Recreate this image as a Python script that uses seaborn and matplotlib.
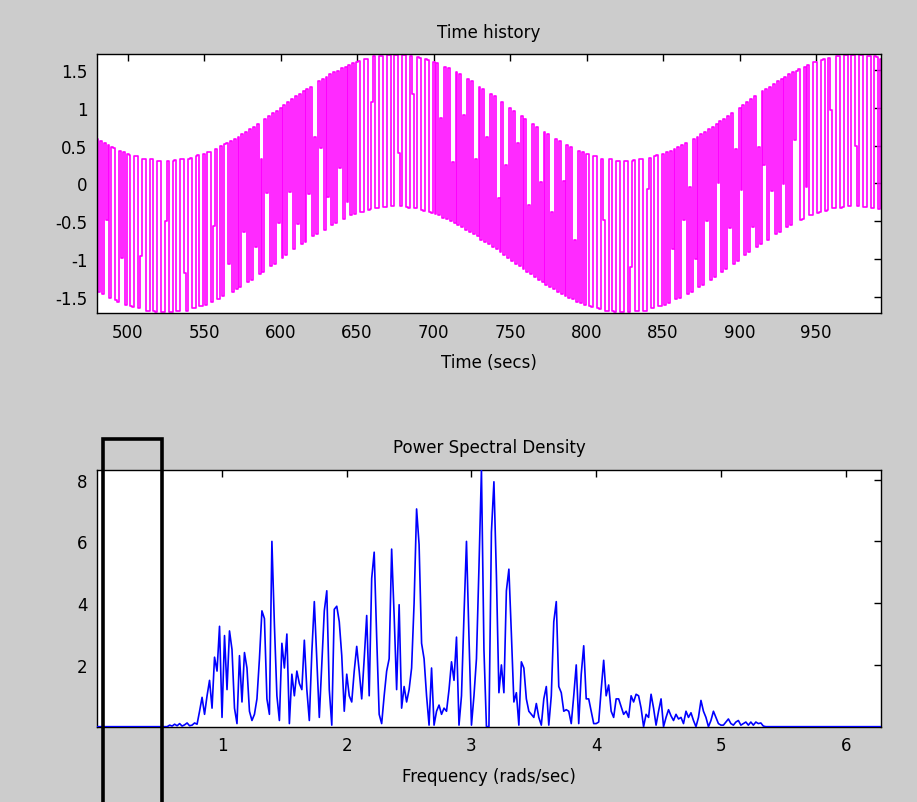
import numpy as np
import matplotlib
matplotlib.use("Agg")
import matplotlib.pyplot as plt
from matplotlib.patches import Rectangle
import seaborn as sns

# -------------------------------
# data
# -------------------------------

# time history, one sample every 1.25 s from 480 s
t_start = 480.0
t_step = 1.25
displacement = [
    # 480 - 500
    0.59, -1.43, 0.56, -1.46, 0.53, -0.48, 0.51, -1.51, 0.48, 0.47,
    -1.54, -1.56, 0.43, -0.98, 0.41, -1.60,
    # 500 - 547.5
    0.39, 0.38, -1.62, -1.63, 0.36, 0.36, -1.65, -0.96, 0.33, 0.33,
    -1.68, -1.68, 0.32, 0.32, -1.69, -1.70, 0.30, 0.30, -1.70, -1.70,
    -0.50, 0.30, -1.70, -1.70, 0.30, 0.31, -1.69, -1.69, 0.32, 0.32,
    -1.18, -1.68, 0.33, 0.34, -1.65, -1.65, 0.36, 0.37,
    # 547.5 - 570
    -1.62, -1.62, 0.39, -1.60, 0.41, 0.42, -1.57, -0.56, 0.46, -1.53,
    -1.52, 0.50, -1.49, 0.52, 0.53, -1.06, 0.56, -1.43,
    # 570 - 650
    0.59, -1.40, 0.62, -1.37, 0.65, -0.64, 0.68, -1.30, 0.72, -1.27,
    0.75, -0.84, 0.78, -1.20, 0.32, -1.17, 0.85, -0.13, 0.89, -1.09,
    0.93, -1.06, 0.96, -0.52, 1.00, -0.98, 1.04, -0.95, 1.07, -0.11,
    1.11, -0.87, 1.15, -0.54, 1.18, -0.80, 1.22, -0.77, 1.25, -0.14,
    1.28, -0.70, 0.62, -0.67, 1.35, 0.47, 1.38, -0.61, 1.41, -0.18,
    1.44, -0.55, 1.47, -0.52, 1.49, 0.21, 1.52, -0.47, 1.54, -0.25,
    1.57, -0.42, 1.59, -0.40,
    # 650 - 700
    1.61, 1.62, -0.38, -0.37, 1.64, 1.65, -0.35, -0.34, 1.07, 1.68,
    -0.32, -0.32, 1.68, 1.69, -0.31, -0.31, 1.70, 1.70, -0.30, -0.30,
    1.70, 1.70, 0.40, -0.30, 1.70, 1.70, -0.31, -0.32, 1.68, 1.18,
    -0.32, -0.33, 1.67, 1.66, -0.35, -0.36, 1.64, 1.63, -0.38, -0.39,
    # 700 - 800
    1.61, -0.40, 1.59, -0.42, 0.87, -0.45, 1.54, -0.47, 1.52, -0.50,
    0.29, -0.52, 1.47, -0.55, 1.44, -0.58, 0.91, -0.61, 1.38, -0.64,
    1.35, -0.67, 0.32, -0.70, 1.28, -0.74, 1.25, -0.77, 0.62, -0.80,
    1.18, -0.84, 1.15, -0.87, -0.19, -0.91, 1.07, -0.95, 0.24, -0.98,
    1.00, -1.02, 0.96, -1.06, 0.53, -1.09, 0.89, -1.13, 0.85, -1.17,
    -0.28, -1.20, 0.78, -1.24, 0.75, -1.27, 0.02, -1.30, 0.68, -1.34,
    0.65, -1.37, -0.38, -1.40, 0.59, -1.43, 0.56, -1.46, 0.03, -1.48,
    0.51, -1.51, 0.48, -1.53, -0.74, -1.56, 0.43, -1.58, 0.41, -1.60,
    # 800 - 850
    0.39, 0.39, -1.62, -1.63, 0.36, 0.36, -1.65, -1.66, 0.33, -0.48,
    -1.68, -1.68, 0.32, 0.32, -1.69, -1.70, 0.30, 0.30, -1.70, -1.70,
    0.30, 0.30, -1.70, -1.10, 0.30, 0.31, -1.69, -1.69, 0.32, 0.32,
    -1.68, -1.68, -0.07, 0.34, -1.65, -1.65, 0.36, 0.37, -1.62, -1.62,
    # 850 - 925
    0.39, -1.60, 0.41, -1.58, 0.43, -0.86, 0.46, -1.53, 0.48, -1.51,
    0.51, -0.48, 0.53, -1.46, -0.04, -1.43, 0.59, -1.00, 0.62, -1.37,
    0.65, -1.34, 0.68, -0.50, 0.72, -1.27, 0.75, -1.24, 0.78, 0.00,
    0.82, -1.17, 0.85, -1.13, 0.89, -0.59, 0.93, -1.06, 0.46, -1.02,
    1.00, -0.08, 1.04, -0.95, 1.07, -0.91, 1.11, -0.57, 1.15, -0.84,
    0.48, -0.80, 1.22, 0.24, 1.25, -0.74, 1.28, -0.10, 1.32, -0.67,
    # 925 - 992.5
    1.35, -0.64, 1.38, -0.01, 1.41, -0.58, 1.44, -0.55, 1.47, 0.58,
    1.49, 1.51, -0.48, -0.47, 1.54, -0.05, 1.57, -0.42, -0.41, 1.60,
    1.61, -0.39, -0.38, 1.63, 1.64, -0.36, -0.35, 1.66, 0.97, -0.33,
    -0.32, 1.68, 1.68, -0.32, -0.31, 1.70, 1.70, -0.30, -0.30, 1.70,
    1.70, 0.50, -0.30, 1.70, 1.70, -0.31, -0.31, 1.69, 1.68, -0.32,
    -0.32, 1.68, 1.67, -0.34, 1.65,
]
time_ticks = [500, 550, 600, 650, 700, 750, 800, 850, 900, 950]
disp_ticks = [-1.5, -1, -0.5, 0, 0.5, 1, 1.5]
disp_labels = ["-1.5", "-1", "-0.5", "0", "0.5", "1", "1.5"]

# power spectral density, one value every 0.02 rad/s from 0.56 rad/s
f_start = 0.56
f_step = 0.02
psd = [
    0.00, 0.05, 0.02, 0.08, 0.03, 0.10, 0.02, 0.06, 0.12, 0.03,
    0.05, 0.12, 0.08, 0.50, 0.95, 0.40, 1.00, 1.50, 0.60, 2.25,
    1.80, 3.25, 0.30, 2.95, 1.20, 3.10, 2.50, 0.60, 0.10, 2.30,
    0.80, 2.40, 1.90, 0.50, 0.20, 0.40, 0.90, 2.20, 3.75, 3.50,
    0.90, 0.40, 6.00, 3.30, 1.00, 0.20, 2.70, 1.90, 3.00, 0.10,
    1.70, 1.00, 1.80, 1.40, 1.20, 2.80, 1.20, 0.20, 2.40, 4.05,
    2.20, 0.30, 2.00, 3.75, 4.40, 1.20, 0.05, 3.80, 3.90, 3.40,
    2.30, 0.50, 1.70, 1.00, 0.80, 1.80, 2.60, 1.80, 0.90, 2.20,
    3.60, 1.00, 4.80, 5.65, 2.90, 0.40, 0.10, 1.00, 1.80, 2.20,
    5.75, 3.60, 1.20, 3.95, 0.60, 1.30, 0.80, 1.20, 1.90, 4.00,
    7.05, 5.90, 2.70, 2.20, 1.00, 0.05, 1.90, 0.05, 0.50, 0.70,
    0.40, 0.60, 0.50, 1.20, 2.10, 1.50, 2.90, 0.05, 1.00, 3.60,
    6.00, 2.90, 0.05, 1.00, 2.20, 5.15, 8.32, 2.50, 0.00, 0.00,
    6.30, 7.93, 4.90, 1.10, 2.00, 1.10, 4.40, 5.10, 3.00, 0.80,
    1.10, 0.05, 2.10, 1.90, 0.90, 0.50, 0.40, 0.30, 0.75, 0.30,
    0.05, 0.90, 1.30, 0.05, 1.00, 3.40, 4.05, 1.30, 1.10, 0.50,
    0.55, 0.50, 0.10, 1.00, 2.00, 0.10, 1.70, 2.62, 0.90, 0.90,
    0.50, 0.10, 0.10, 0.15, 1.20, 2.15, 1.00, 1.35, 0.50, 0.30,
    0.90, 0.90, 0.65, 0.40, 0.50, 0.30, 1.00, 0.80, 1.05, 1.00,
    0.60, 0.00, 0.40, 0.30, 1.05, 0.60, 0.05, 0.50, 0.90, 0.00,
    0.30, 0.55, 0.35, 0.20, 0.40, 0.25, 0.30, 0.10, 0.50, 0.30,
    0.45, 0.20, 0.00, 0.30, 0.85, 0.50, 0.30, 0.00, 0.20, 0.50,
    0.30, 0.10, 0.05, 0.05, 0.15, 0.25, 0.10, 0.05, 0.15, 0.20,
    0.05, 0.10, 0.15, 0.05, 0.15, 0.05, 0.15, 0.10, 0.12, 0.02,
    0.00, 0.00,
]
freq_ticks = [1, 2, 3, 4, 5, 6]
psd_ticks = [2, 4, 6, 8]

time_s = t_start + t_step * np.arange(len(displacement))
freq = np.round(f_start + f_step * np.arange(len(psd)), 2)
# flat zero stretches at both ends of the spectrum
freq = np.concatenate([[0.0], freq, [2 * np.pi]])
psd_full = np.concatenate([[0.0], psd, [0.0]])

# -------------------------------
# figure
# -------------------------------
sns.set_style("white")
plt.rcParams["font.family"] = ["DejaVu Sans"]
plt.rcParams["font.size"] = 12
plt.rcParams["text.color"] = "black"
plt.rcParams["axes.labelcolor"] = "black"

fig = plt.figure(figsize=(9.17, 8.03), dpi=100, facecolor="#cccccc")
ax1 = fig.add_axes([0.1058, 0.609, 0.855, 0.3225])
ax2 = fig.add_axes([0.1061, 0.0938, 0.8546, 0.3200])

sns.lineplot(x=time_s, y=displacement, ax=ax1, color="#ff00ff", lw=1.2,
             drawstyle="steps-mid", estimator=None)
ax1.set_xlim(480, 992.5)
ax1.set_ylim(-1.71, 1.71)
ax1.set_xticks(time_ticks)
ax1.set_yticks(disp_ticks)
ax1.set_yticklabels(disp_labels)
ax1.set_title("Time history", fontsize=12, pad=12, color="black")
ax1.set_xlabel("Time (secs)", fontsize=12, labelpad=9)

sns.lineplot(x=freq, y=psd_full, ax=ax2, color="#0000ff", lw=1.2,
             estimator=None, zorder=3)
ax2.set_xlim(0, 2 * np.pi)
ax2.set_ylim(0, 8.32)
ax2.set_xticks(freq_ticks)
ax2.set_yticks(psd_ticks)
ax2.set_title("Power Spectral Density", fontsize=12, pad=12.5, color="black")
ax2.set_xlabel("Frequency (rads/sec)", fontsize=12, labelpad=9)

for ax in (ax1, ax2):
    ax.set_facecolor("white")
    ax.set_ylabel("")
    ax.tick_params(direction="in", top=True, right=True, length=5,
                   width=1, labelsize=12, pad=7, colors="black")
    for sp in ax.spines.values():
        sp.set_color("black")
        sp.set_linewidth(1)

# black box drawn over the low-frequency end
fig.add_artist(Rectangle((0.1118, -0.05), 0.0654, 0.502,
                         transform=fig.transFigure, fill=False,
                         edgecolor="black", lw=2.6, clip_on=False))

fig.savefig("out.png", dpi=100, facecolor=fig.get_facecolor())
